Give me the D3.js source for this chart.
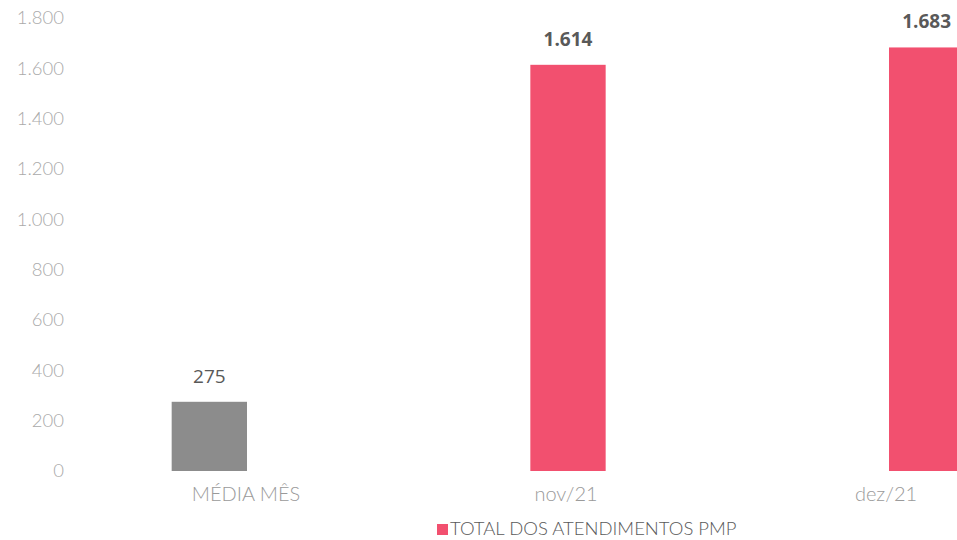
<!DOCTYPE html>
<html>
<head>
<meta charset="utf-8">
<script src="https://cdn.jsdelivr.net/npm/d3@7"></script>
<style>
  body { margin: 0; background: #fff; }
  text { font-family: Lato, "Open Sans", sans-serif; }
</style>
</head>
<body>
<div id="chart"></div>
<script>
// data
var categories = ["MÉDIA MÊS", "nov/21", "dez/21"];
var values = [275, 1614, 1683];
var valueLabels = ["275", "1.614", "1.683"];
var barColors = ["#8c8c8c", "#f2506f", "#f2506f"];
var yTicks = [0, 200, 400, 600, 800, 1000, 1200, 1400, 1600, 1800];
var legendLabel = "TOTAL DOS ATENDIMENTOS PMP";

var width = 957, height = 540;

var svg = d3.select("#chart")
  .append("svg")
  .attr("width", width)
  .attr("height", height);

var y = d3.scaleLinear()
  .domain([0, 1800])
  .range([471, 18]);

// bars
var x = d3.scaleBand()
  .domain(categories)
  .range([30, 1106])
  .paddingInner(0.79)
  .paddingOuter(0.395);

// category labels sit a bit off the bars in the original
var xLab = d3.scaleBand()
  .domain(categories)
  .range([86, 1046]);

// y axis labels (no line)
var fmt = function(d){ return d3.format(",")(d).replace(/,/g, "."); };
var yAxis = svg.append("g")
  .attr("transform", "translate(64,0)")
  .call(d3.axisLeft(y).tickValues(yTicks).tickSize(0).tickPadding(0).tickFormat(fmt));
yAxis.select(".domain").remove();
yAxis.selectAll("text")
  .style("font-size", "18.5px")
  .style("font-weight", 300)
  .attr("fill", "#aaaaaa");

svg.selectAll("rect.bar")
  .data(values)
  .enter()
  .append("rect")
  .attr("class", "bar")
  .attr("x", function(d, i){ return x(categories[i]); })
  .attr("y", function(d){ return y(d); })
  .attr("width", x.bandwidth())
  .attr("height", function(d){ return y(0) - y(d); })
  .attr("fill", function(d, i){ return barColors[i]; });

// value labels
svg.selectAll("text.val")
  .data(values)
  .enter()
  .append("text")
  .attr("class", "val")
  .attr("x", function(d, i){ return x(categories[i]) + x.bandwidth() / 2; })
  .attr("y", function(d){ return y(d) - 19; })
  .attr("text-anchor", "middle")
  .style("font-family", "'Open Sans', sans-serif")
  .style("font-size", "19px")
  .style("font-weight", function(d, i){ return i == 0 ? 400 : 700; })
  .attr("fill", "#595959")
  .text(function(d, i){ return valueLabels[i]; });

// x axis labels
var xAxis = svg.append("g")
  .attr("transform", "translate(0," + y(0) + ")")
  .call(d3.axisBottom(xLab).tickSize(0).tickPadding(16));
xAxis.select(".domain").remove();
xAxis.selectAll("text")
  .style("font-size", "20px")
  .style("font-weight", 300)
  .attr("fill", "#9a9a9a");

// legend
var legend = svg.append("g").attr("transform", "translate(437,524)");
legend.append("rect")
  .attr("width", 11).attr("height", 11)
  .attr("fill", "#f2506f");
legend.append("text")
  .attr("x", 13).attr("y", 11)
  .style("font-size", "18.5px")
  .style("font-weight", 300)
  .attr("fill", "#595959")
  .text(legendLabel);
</script>
</body>
</html>
